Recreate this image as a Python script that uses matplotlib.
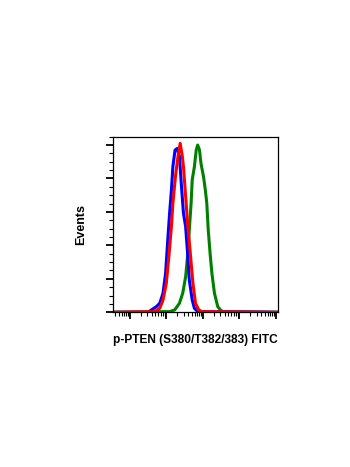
import numpy as np
import matplotlib
matplotlib.use("Agg")
import matplotlib.pyplot as plt
from matplotlib.ticker import LogLocator, MultipleLocator, NullFormatter

# histogram outlines, x as log10(intensity), y as % of max events
blue_logx = [0.50, 1.50, 1.59, 1.73, 1.82, 1.91, 1.98, 2.04, 2.09, 2.14, 2.18, 2.24,
             2.30, 2.36, 2.41, 2.47, 2.53, 2.59, 2.63, 2.71, 2.77, 2.86, 5.06]
blue_y = [0, 0, 1.4, 3.4, 5.4, 11.4, 23.3, 43.3, 59.2, 73.1, 87.1, 97.0,
          98.0, 93.1, 77.1, 59.2, 51.2, 33.3, 19.3, 7.4, 2.4, 0.4, 0]

red_logx = [0.50, 1.68, 1.82, 1.91, 2.00, 2.07, 2.14, 2.18, 2.25, 2.32, 2.38, 2.44,
            2.47, 2.53, 2.59, 2.65, 2.73, 2.80, 2.89, 2.98, 5.06]
red_y = [0, 0.4, 2.4, 7.4, 17.3, 33.3, 51.2, 65.2, 81.1, 93.1, 101.0, 93.1,
         87.1, 69.2, 51.2, 37.3, 17.3, 5.4, 1.4, 0.4, 0]

green_logx = [0.50, 1.86, 2.09, 2.23, 2.36, 2.45, 2.53, 2.59, 2.63, 2.68, 2.71, 2.77,
              2.82, 2.86, 2.91, 2.95, 3.02, 3.07, 3.11, 3.15, 3.20, 3.25, 3.32,
              3.41, 3.50, 3.56, 5.06]
green_y = [0, 0.4, 0.4, 1.4, 5.4, 11.4, 21.3, 35.3, 49.2, 65.2, 79.1, 87.1,
           97.0, 100.0, 97.0, 89.1, 81.1, 73.1, 65.2, 49.2, 35.3, 23.3, 11.4,
           3.4, 1.0, 0.4, 0]

x_label = "p-PTEN (S380/T382/383) FITC"
y_label = "Events"

fig = plt.figure(figsize=(3.5, 4.67), dpi=100)
ax = fig.add_axes([0.322, 0.3313, 0.471, 0.376])

for lx, y, c in [(green_logx, green_y, "#008000"),
                 (blue_logx, blue_y, "#0000ff"),
                 (red_logx, red_y, "#ff0000")]:
    ax.plot(10 ** np.array(lx), y, color=c, lw=2.2, solid_joinstyle="round")

ax.set_xscale("log")
ax.set_xlim(10 ** 0.53, 10 ** 5.05)
ax.set_ylim(0, 105)

ax.xaxis.set_major_locator(LogLocator(base=10, numticks=10))
ax.xaxis.set_minor_locator(LogLocator(base=10, subs=np.arange(2, 10), numticks=10))
ax.xaxis.set_major_formatter(NullFormatter())
ax.xaxis.set_minor_formatter(NullFormatter())
ax.yaxis.set_major_locator(MultipleLocator(20))
ax.yaxis.set_minor_locator(MultipleLocator(5))
ax.yaxis.set_major_formatter(NullFormatter())

ax.tick_params(which="major", direction="out", length=5, width=1.3, color="black")
ax.tick_params(which="minor", direction="out", length=3, width=0.8, color="black")
ax.tick_params(top=False, right=False)
for s in ax.spines.values():
    s.set_linewidth(0.9)

ax.set_xlabel(x_label, family="Liberation Sans", fontweight="bold", fontsize=8.6, labelpad=7)
ax.set_ylabel(y_label, family="Liberation Sans", fontweight="bold", fontsize=9, labelpad=10)

fig.savefig("out.png", dpi=100)
